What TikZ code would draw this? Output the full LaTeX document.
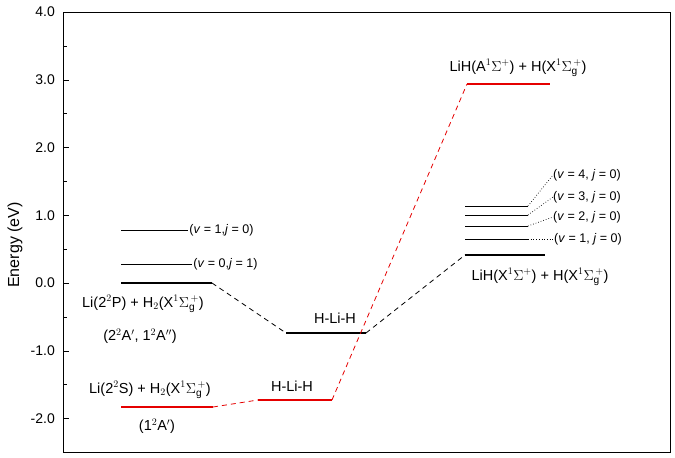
\documentclass[tikz,border=0pt]{standalone}
\usepackage{fontspec}
\setmainfont{Liberation Sans}
\newcommand{\sgp}{$\Sigma_{\mathrm{g}}^{\,+}$}
\begin{document}
\begin{tikzpicture}[x=1pt,y=-1pt,
  lvl/.style={line width=2.2pt},
  thin lvl/.style={line width=0.8pt},
  red lvl/.style={line width=2.2pt,red!90!black},
  conn/.style={line width=0.8pt,dash pattern=on 5pt off 4pt},
  lab/.style={font=\fontsize{14.5}{15}\selectfont,inner sep=0pt},
  vlab/.style={font=\fontsize{12.5}{13}\selectfont,inner sep=0pt,anchor=west},
  tick/.style={font=\fontsize{14}{14}\selectfont,anchor=east,inner sep=0pt}]
\useasboundingbox (0,0) rectangle (675,458);
\draw[line width=0.8pt] (63,12) rectangle (670,452);
\foreach \v/\t in {4/4.0,3/3.0,2/2.0,1/1.0,0/0.0,-1/-1.0,-2/-2.0}{
  \draw (63,{283-67.75*\v}) -- ++(6,0);
  \node[tick] at (55,{283-67.75*\v}) {\t};
}
\foreach \v in {3.5,2.5,1.5,0.5,-0.5,-1.5}{\draw (63,{283-67.75*\v}) -- ++(4,0);}
\node[rotate=90,font=\fontsize{16}{16}\selectfont] (ylab) at (15,245) {Energy (eV)};
\coordinate (pA) at (121,283); \coordinate (pB) at (212,283);
\draw[lvl] (pA) -- (pB);
\draw[thin lvl] (121,264) -- (192,264) node[vlab,right=1pt] (v01) {(\textit{v} = 0,\textit{j} = 1)};
\draw[thin lvl] (121,230) -- (188,230) node[vlab,right=1pt] (v10) {(\textit{v} = 1,\textit{j} = 0)};
\coordinate (sA) at (121,407); \coordinate (sB) at (213,407);
\draw[red lvl] (sA) -- (sB);
\coordinate (hrA) at (258,400); \coordinate (hrB) at (332,400);
\draw[red lvl] (hrA) -- (hrB);
\coordinate (hbA) at (286,333); \coordinate (hbB) at (366,333);
\draw[lvl] (hbA) -- (hbB);
\coordinate (aA) at (467,84); \coordinate (aB) at (550,84);
\draw[red lvl] (aA) -- (aB);
\coordinate (xA) at (465,255); \coordinate (xB) at (545,255);
\draw[lvl] (xA) -- (xB);
\foreach \y/\n in {239/1,226/2,215/3,206/4}{\draw[thin lvl] (465,\y) -- (528,\y) coordinate (e\n);}
\node[vlab] (l1) at (554,239) {(\textit{v} = 1, \textit{j} = 0)};
\node[vlab] (l2) at (553,217) {(\textit{v} = 2, \textit{j} = 0)};
\node[vlab] (l3) at (553,197) {(\textit{v} = 3, \textit{j} = 0)};
\node[vlab] (l4) at (553,175) {(\textit{v} = 4, \textit{j} = 0)};
\foreach \n in {1,2,3,4}{\draw[dotted,line width=0.7pt] (e\n) -- (l\n.west);}
\draw[conn] (pB) -- (hbA);
\draw[conn] (hbB) -- (xA);
\draw[conn,red!90!black] (sB) -- (hrA);
\draw[conn,red!90!black] (hrB) -- (aA);
\node[lab] (t1) at (143,304) {Li(2$^2$P) + H$_2$(X$^1$\sgp)};
\node[lab] (t2) at (140,336) {(2$^2$A$'$, 1$^2$A$''$)};
\node[lab] (t3) at (150,390) {Li(2$^2$S) + H$_2$(X$^1$\sgp)};
\node[lab] (t4) at (157,426) {(1$^2$A$'$)};
\node[lab] (t5) at (292,386) {H-Li-H};
\node[lab] (t6) at (335,318) {H-Li-H};
\node[lab] (t7) at (518,68) {LiH(A$^1\Sigma^+$) + H(X$^1$\sgp)};
\node[lab] (t8) at (540,277) {LiH(X$^1\Sigma^+$) + H(X$^1$\sgp)};
\end{tikzpicture}
\end{document}
